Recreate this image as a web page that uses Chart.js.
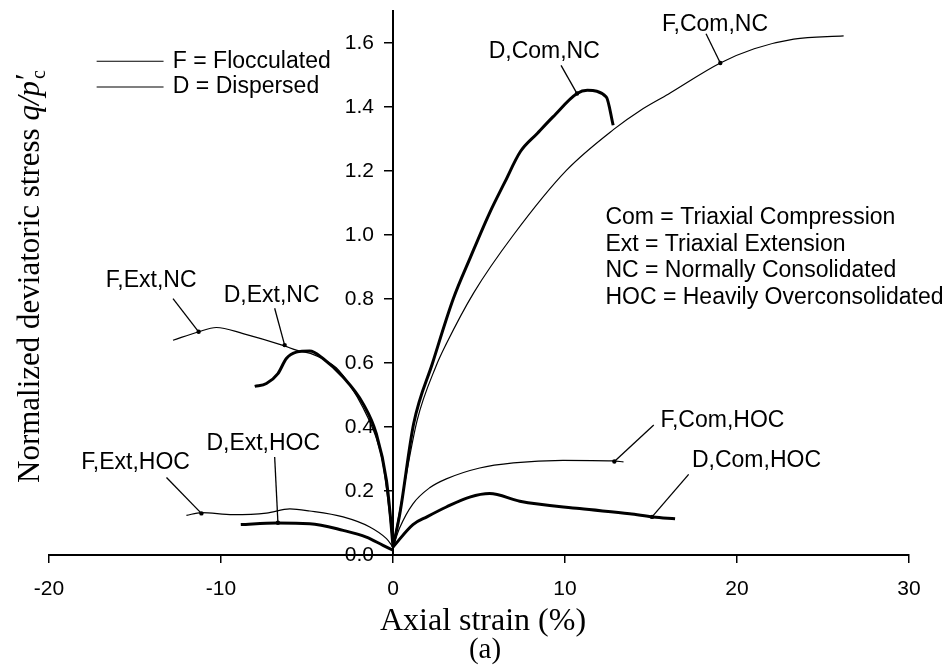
<!DOCTYPE html>
<html>
<head>
<meta charset="utf-8">
<script src="https://cdn.jsdelivr.net/npm/chart.js@4.4.1/dist/chart.umd.min.js"></script>
<style>
  body { margin: 0; background: #fff; }
  canvas { display: block; }
</style>
</head>
<body>
<canvas id="strainChart" width="948" height="668"></canvas>
<script>
// axis ticks
const xTicks = [-20, -10, 0, 10, 20, 30];
const yTicks = [0, 0.2, 0.4, 0.6, 0.8, 1.0, 1.2, 1.4, 1.6];

// F = flocculated (thin), D = dispersed (thick)
const fComNcX = [0, 0.5, 1.4, 2.5, 3.1, 4.7, 7.0, 10.08, 12.83, 14.4, 16.0, 19.03, 21.0, 23.3, 26.2];
const fComNcY = [0.025, 0.17, 0.42, 0.59, 0.66, 0.82, 1.0, 1.202, 1.33, 1.39, 1.44, 1.5375, 1.582, 1.612, 1.622];

const dComNcX = [0, 0.4, 1.2, 2.3, 3.5, 4.5, 5.6, 6.5, 7.4, 8.4, 9.3, 10.7, 11.3, 12.4, 12.8];
const dComNcY = [0.025, 0.13, 0.41, 0.6, 0.8, 0.93, 1.067, 1.165, 1.26, 1.318, 1.369, 1.442, 1.452, 1.431, 1.343];

const fComHocX = [0, 0.39, 1.16, 2.13, 3.1, 5.04, 7.0, 9.88, 12.79, 13.4];
const fComHocY = [0.025, 0.085, 0.16, 0.21, 0.238, 0.272, 0.288, 0.296, 0.294, 0.291];

const dComHocX = [0, 1.16, 2.0, 3.1, 4.46, 5.62, 7.37, 10.85, 13.76, 15.12, 16.4];
const dComHocY = [0.025, 0.095, 0.12, 0.15, 0.181, 0.192, 0.168, 0.145, 0.129, 0.119, 0.113];

const fExtNcX = [-12.79, -11.34, -10.27, -8.72, -6.4, -5.62, -4.8, -4.0, -3.3, -2.5, -1.74, -1.0, -0.6, -0.25, 0];
const fExtNcY = [0.671, 0.697, 0.711, 0.692, 0.655, 0.64, 0.63, 0.61, 0.585, 0.53, 0.46, 0.37, 0.29, 0.15, 0.025];

const dExtNcX = [-8.04, -7.36, -6.69, -6.2, -5.62, -4.84, -4.07, -2.9, -1.74, -0.97, -0.38, -0.15, 0];
const dExtNcY = [0.527, 0.536, 0.567, 0.614, 0.634, 0.6375, 0.614, 0.556, 0.473, 0.379, 0.233, 0.12, 0.025];

const fExtHocX = [-12.01, -11.14, -9.3, -7.36, -6.0, -4.84, -2.9, -1.35, -0.38, 0];
const fExtHocY = [0.124, 0.1325, 0.126, 0.131, 0.144, 0.1375, 0.119, 0.0875, 0.051, 0.025];

const dExtHocX = [-8.85, -6.78, -4.84, -2.9, -1.55, -0.58, 0];
const dExtHocY = [0.095, 0.1, 0.098, 0.077, 0.056, 0.03, 0.015];

// curve labels: text, text position, leader line from -> to (data units)
const curveLabels = [
    { text: 'F,Com,NC',  at: [15.64, 1.658], from: [18.2, 1.629],  to: [19.03, 1.5375] },
    { text: 'D,Com,NC',  at: [5.56, 1.572],  from: [9.77, 1.53],   to: [10.7, 1.442] },
    { text: 'F,Ext,NC',  at: [-16.7, 0.858], from: [-12.79, 0.801], to: [-11.3, 0.6975] },
    { text: 'D,Ext,NC',  at: [-9.84, 0.8116], from: [-6.88, 0.771], to: [-6.3, 0.656] },
    { text: 'F,Ext,HOC', at: [-18.12, 0.29], from: [-13.17, 0.242], to: [-11.14, 0.13] },
    { text: 'D,Ext,HOC', at: [-10.85, 0.348], from: [-6.88, 0.306], to: [-6.69, 0.101] },
    { text: 'F,Com,HOC', at: [15.55, 0.419], from: [15.16, 0.406], to: [12.87, 0.292] },
    { text: 'D,Com,HOC', at: [17.38, 0.294], from: [17.19, 0.252], to: [15.06, 0.119] }
];

const notes = [
    'Com = Triaxial Compression',
    'Ext = Triaxial Extension',
    'NC = Normally Consolidated',
    'HOC = Heavily Overconsolidated'
];

function toPoints(xs, ys) {
    return xs.map((x, i) => ({ x: x, y: ys[i] }));
}

function curve(xs, ys, width) {
    return {
        data: toPoints(xs, ys),
        showLine: true,
        borderColor: '#000',
        borderWidth: width,
        pointRadius: 0,
        cubicInterpolationMode: 'monotone',
        fill: false
    };
}

const sans = '"Liberation Sans", Arial, sans-serif';
const serif = '"Liberation Serif", "Times New Roman", serif';

// texts, leader lines, y tick labels and axis titles
const annotate = {
    id: 'annotate',
    afterDraw(chart) {
        const ctx = chart.ctx;
        const xs = chart.scales.x, ys = chart.scales.y;
        const px = v => xs.getPixelForValue(v);
        const py = v => ys.getPixelForValue(v);
        const area = chart.chartArea;

        ctx.save();
        ctx.fillStyle = '#000';
        ctx.strokeStyle = '#000';
        ctx.textBaseline = 'middle';

        // y tick labels sit left of the centred axis
        ctx.font = '21px ' + sans;
        ctx.textAlign = 'right';
        ys.ticks.forEach(t => ctx.fillText(t.value.toFixed(1), px(0) - 19, py(t.value)));

        ctx.font = '23px ' + sans;
        ctx.textAlign = 'left';
        curveLabels.forEach(l => {
            ctx.fillText(l.text, px(l.at[0]), py(l.at[1]));
            ctx.lineWidth = 1.3;
            ctx.beginPath();
            ctx.moveTo(px(l.from[0]), py(l.from[1]));
            ctx.lineTo(px(l.to[0]), py(l.to[1]));
            ctx.stroke();
            ctx.beginPath();
            ctx.arc(px(l.to[0]), py(l.to[1]), 2.2, 0, Math.PI * 2);
            ctx.fill();
        });

        // legend for line weights
        const legendRows = [['F = Flocculated', 1.543], ['D = Dispersed', 1.4625]];
        legendRows.forEach(r => {
            ctx.lineWidth = 1.2;
            ctx.beginPath();
            ctx.moveTo(px(-17.23), py(r[1]));
            ctx.lineTo(px(-13.34), py(r[1]));
            ctx.stroke();
            ctx.fillText(r[0], px(-12.8), py(r[1]));
        });

        // abbreviations
        const noteY = [1.054, 0.971, 0.8875, 0.804];
        notes.forEach((n, i) => ctx.fillText(n, px(12.35), py(noteY[i])));

        // x title
        ctx.textAlign = 'center';
        ctx.font = '32px ' + serif;
        ctx.fillText('Axial strain (%)', area.left + (area.right - area.left) / 2 + 4, area.bottom + 67);
        ctx.font = '29px ' + serif;
        ctx.fillText('(a)', area.left + (area.right - area.left) / 2 + 6, area.bottom + 95);

        // y title, rotated
        ctx.translate(29, 274);
        ctx.rotate(-Math.PI / 2);
        ctx.textAlign = 'left';
        ctx.textBaseline = 'alphabetic';
        const s1 = 'Normalized deviatoric stress ';
        const s2 = 'q/p';
        ctx.font = '31px ' + serif;
        const w1 = ctx.measureText(s1).width;
        ctx.font = 'italic 31px ' + serif;
        const w2 = ctx.measureText(s2).width;
        const total = w1 + w2 + 16;
        const x0 = -total / 2;
        const base = 10;
        ctx.font = '31px ' + serif;
        ctx.fillText(s1, x0, base);
        ctx.font = 'italic 31px ' + serif;
        ctx.fillText(s2, x0 + w1, base);
        ctx.fillText('\u2032', x0 + w1 + w2 - 1, base - 2);
        ctx.font = '20px ' + serif;
        ctx.fillText('c', x0 + w1 + w2 + 2, base + 6);
        ctx.restore();
    }
};

const chart = new Chart(document.getElementById('strainChart').getContext('2d'), {
    type: 'scatter',
    data: {
        datasets: [
            curve(fComNcX, fComNcY, 1.2),
            curve(dComNcX, dComNcY, 3),
            curve(fComHocX, fComHocY, 1.2),
            curve(dComHocX, dComHocY, 3),
            curve(fExtNcX, fExtNcY, 1.2),
            curve(dExtNcX, dExtNcY, 3),
            curve(fExtHocX, fExtHocY, 1.2),
            curve(dExtHocX, dExtHocY, 3)
        ]
    },
    options: {
        responsive: false,
        animation: false,
        layout: { padding: { left: 49, right: 39, top: 11, bottom: 63 } },
        plugins: { legend: { display: false }, tooltip: { enabled: false } },
        scales: {
            x: {
                type: 'linear',
                position: 'bottom',
                min: -20,
                max: 30,
                afterBuildTicks: s => { s.ticks = xTicks.map(v => ({ value: v })); },
                afterFit: s => { s.height = 50; },
                ticks: { color: '#000', font: { family: sans, size: 21 }, padding: 14, maxRotation: 0 },
                grid: { drawOnChartArea: false, drawTicks: true, tickLength: 8, color: '#000', lineWidth: 1.5 },
                border: { color: '#000', width: 2 }
            },
            y: {
                type: 'linear',
                position: { x: 0 },
                min: 0,
                max: 1.7,
                afterBuildTicks: s => { s.ticks = yTicks.map(v => ({ value: v })); },
                ticks: { display: false },
                grid: { drawOnChartArea: false, drawTicks: true, tickLength: 8, color: '#000', lineWidth: 1.5 },
                border: { color: '#000', width: 2 }
            }
        }
    },
    plugins: [annotate]
});
</script>
</body>
</html>
